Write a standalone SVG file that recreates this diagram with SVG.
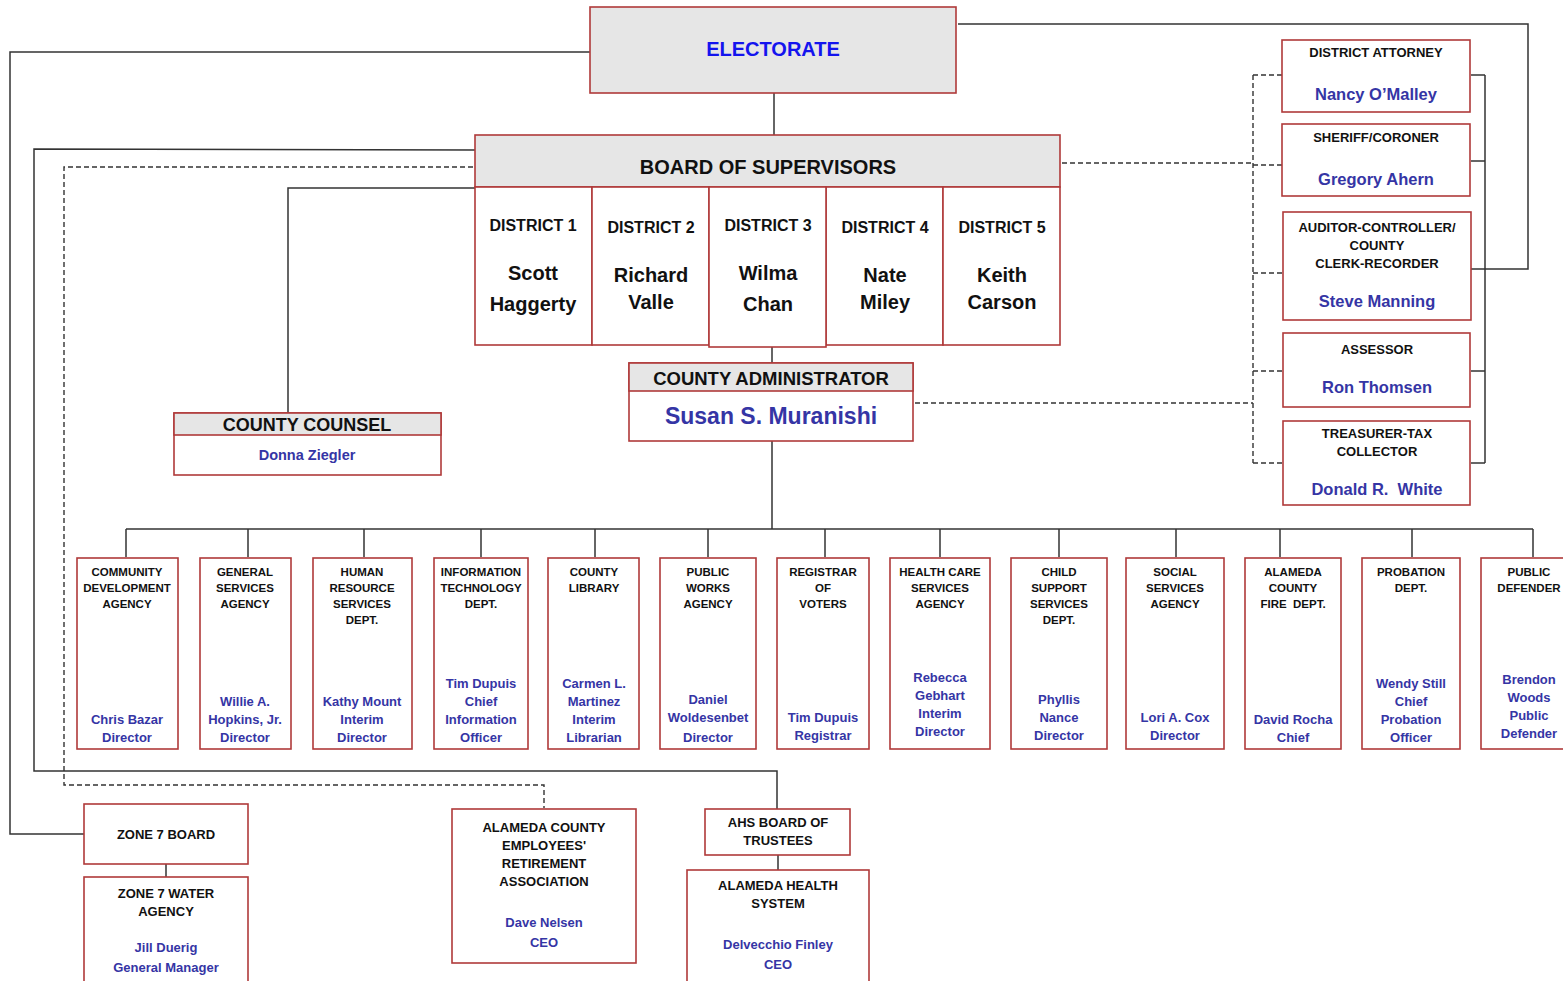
<svg xmlns="http://www.w3.org/2000/svg" width="1563" height="981" viewBox="0 0 1563 981">
<style>
text{font-family:"Liberation Sans",Arial,sans-serif;font-weight:bold;text-anchor:middle;dominant-baseline:central;fill:#111}
.box{fill:#fff;stroke:#b03a3a;stroke-width:1.6}
.hdr{fill:#e6e6e6;stroke:#b03a3a;stroke-width:1.6}
.ln{fill:none;stroke:#333;stroke-width:1.5}
.dash{fill:none;stroke:#333;stroke-width:1.4;stroke-dasharray:5,3}
.nm{fill:#3535a5}
.t11{font-size:11.5px}
.t13{font-size:13px}
.n13{font-size:13px}
.n16{font-size:16.5px}
</style>
<rect width="1563" height="981" fill="#fff"/>
<g id="connectors">
<polyline class="ln" points="590,52 10,52 10,834 84,834"/>
<polyline class="ln" points="958,24 1528,24 1528,269 1471,269"/>
<line class="ln" x1="774" y1="93" x2="774" y2="135"/>
<polyline class="ln" points="475,150 34,149 34,771 777,771 777,809"/>
<polyline class="dash" points="473,167 64,167 64,785 544,785 544,808"/>
<polyline class="ln" points="475,188 288,188 288,413"/>
<line class="ln" x1="772" y1="347" x2="772" y2="363"/>
<polyline class="dash" points="1062,163 1253,163"/>
<polyline class="dash" points="915,403 1253,403"/>
<line class="dash" x1="1253" y1="75" x2="1253" y2="463"/>
<line class="dash" x1="1253" y1="75" x2="1282" y2="75"/>
<line class="dash" x1="1253" y1="165" x2="1282" y2="165"/>
<line class="dash" x1="1253" y1="273" x2="1282" y2="273"/>
<line class="dash" x1="1253" y1="371" x2="1282" y2="371"/>
<line class="dash" x1="1253" y1="463" x2="1282" y2="463"/>
<line class="ln" x1="1485" y1="75" x2="1485" y2="463"/>
<line class="ln" x1="1471" y1="75" x2="1485" y2="75"/>
<line class="ln" x1="1471" y1="161" x2="1485" y2="161"/>
<line class="ln" x1="1471" y1="371" x2="1485" y2="371"/>
<line class="ln" x1="1471" y1="463" x2="1485" y2="463"/>
<line class="ln" x1="772" y1="441" x2="772" y2="529"/>
<line class="ln" x1="126" y1="529" x2="1533" y2="529"/>
<line class="ln" x1="126" y1="529" x2="126" y2="557"/>
<line class="ln" x1="248" y1="529" x2="248" y2="557"/>
<line class="ln" x1="364" y1="529" x2="364" y2="557"/>
<line class="ln" x1="481" y1="529" x2="481" y2="557"/>
<line class="ln" x1="595" y1="529" x2="595" y2="557"/>
<line class="ln" x1="708" y1="529" x2="708" y2="557"/>
<line class="ln" x1="825" y1="529" x2="825" y2="557"/>
<line class="ln" x1="940" y1="529" x2="940" y2="557"/>
<line class="ln" x1="1059" y1="529" x2="1059" y2="557"/>
<line class="ln" x1="1176" y1="529" x2="1176" y2="557"/>
<line class="ln" x1="1280" y1="529" x2="1280" y2="557"/>
<line class="ln" x1="1412" y1="529" x2="1412" y2="557"/>
<line class="ln" x1="1533" y1="529" x2="1533" y2="557"/>
<line class="ln" x1="166" y1="864" x2="166" y2="877"/>
<line class="ln" x1="778" y1="855" x2="778" y2="870"/>
</g>
<g id="electorate">
<rect class="hdr" x="590" y="7" width="366" height="86"/>
<text x="773" y="49" style="font-size:20px;fill:#1414ee">ELECTORATE</text>
</g>
<g id="board">
<rect class="hdr" x="475" y="135" width="585" height="52"/>
<text x="768" y="167" style="font-size:20px">BOARD OF SUPERVISORS</text>
<rect class="box" x="475" y="187" width="117" height="158"/>
<rect class="box" x="592" y="187" width="117" height="158"/>
<rect class="box" x="826" y="187" width="117" height="158"/>
<rect class="box" x="943" y="187" width="117" height="158"/>
<rect class="box" x="709" y="187" width="117" height="160"/>
<g style="font-size:16px">
<text x="533" y="225">DISTRICT 1</text>
<text x="651" y="227">DISTRICT 2</text>
<text x="768" y="225">DISTRICT 3</text>
<text x="885" y="227">DISTRICT 4</text>
<text x="1002" y="227">DISTRICT 5</text>
</g>
<g style="font-size:20px">
<text x="533" y="273">Scott</text><text x="533" y="304">Haggerty</text>
<text x="651" y="275">Richard</text><text x="651" y="302">Valle</text>
<text x="768" y="273">Wilma</text><text x="768" y="304">Chan</text>
<text x="885" y="275">Nate</text><text x="885" y="302">Miley</text>
<text x="1002" y="275">Keith</text><text x="1002" y="302">Carson</text>
</g>
</g>
<g id="county-counsel">
<rect class="box" x="174" y="413" width="267" height="62"/>
<rect class="hdr" x="174" y="413" width="267" height="22"/>
<text x="307" y="425" style="font-size:18px">COUNTY COUNSEL</text>
<text class="nm" x="307" y="455" style="font-size:14.5px">Donna Ziegler</text>
</g>
<g id="county-administrator">
<rect class="box" x="629" y="363" width="284" height="78"/>
<rect class="hdr" x="629" y="363" width="284" height="28"/>
<text x="771" y="378" style="font-size:18.5px">COUNTY ADMINISTRATOR</text>
<text class="nm" x="771" y="416" style="font-size:23px">Susan S. Muranishi</text>
</g>
<g id="district-attorney">
<rect class="box" x="1282" y="40" width="188" height="72"/>
<text class="t13" x="1376" y="52">DISTRICT ATTORNEY</text>
<text class="nm n16" x="1376" y="94">Nancy O’Malley</text>
</g>
<g id="sheriff">
<rect class="box" x="1282" y="124" width="188" height="72"/>
<text class="t13" x="1376" y="137">SHERIFF/CORONER</text>
<text class="nm n16" x="1376" y="179">Gregory Ahern</text>
</g>
<g id="auditor">
<rect class="box" x="1283" y="212" width="188" height="108"/>
<text class="t13" x="1377" y="227">AUDITOR-CONTROLLER/</text>
<text class="t13" x="1377" y="245">COUNTY</text>
<text class="t13" x="1377" y="263">CLERK-RECORDER</text>
<text class="nm n16" x="1377" y="301">Steve Manning</text>
</g>
<g id="assessor">
<rect class="box" x="1283" y="333" width="187" height="74"/>
<text class="t13" x="1377" y="349">ASSESSOR</text>
<text class="nm n16" x="1377" y="387">Ron Thomsen</text>
</g>
<g id="treasurer">
<rect class="box" x="1283" y="421" width="187" height="84"/>
<text class="t13" x="1377" y="433">TREASURER-TAX</text>
<text class="t13" x="1377" y="451">COLLECTOR</text>
<text class="nm n16" x="1377" y="489">Donald R.&#160; White</text>
</g>
<g id="dept-cda">
<rect class="box" x="77" y="558" width="101" height="191"/>
<text class="t11" x="127" y="572">COMMUNITY</text><text class="t11" x="127" y="588">DEVELOPMENT</text><text class="t11" x="127" y="604">AGENCY</text>
<text class="nm n13" x="127" y="719">Chris Bazar</text><text class="nm n13" x="127" y="737">Director</text>
</g>
<g id="dept-gsa">
<rect class="box" x="200" y="558" width="91" height="191"/>
<text class="t11" x="245" y="572">GENERAL</text><text class="t11" x="245" y="588">SERVICES</text><text class="t11" x="245" y="604">AGENCY</text>
<text class="nm n13" x="245" y="701">Willie A.</text><text class="nm n13" x="245" y="719">Hopkins, Jr.</text><text class="nm n13" x="245" y="737">Director</text>
</g>
<g id="dept-hr">
<rect class="box" x="313" y="558" width="99" height="191"/>
<text class="t11" x="362" y="572">HUMAN</text><text class="t11" x="362" y="588">RESOURCE</text><text class="t11" x="362" y="604">SERVICES</text><text class="t11" x="362" y="620">DEPT.</text>
<text class="nm n13" x="362" y="701">Kathy Mount</text><text class="nm n13" x="362" y="719">Interim</text><text class="nm n13" x="362" y="737">Director</text>
</g>
<g id="dept-it">
<rect class="box" x="434" y="558" width="94" height="191"/>
<text class="t11" x="481" y="572">INFORMATION</text><text class="t11" x="481" y="588">TECHNOLOGY</text><text class="t11" x="481" y="604">DEPT.</text>
<text class="nm n13" x="481" y="683">Tim Dupuis</text><text class="nm n13" x="481" y="701">Chief</text><text class="nm n13" x="481" y="719">Information</text><text class="nm n13" x="481" y="737">Officer</text>
</g>
<g id="dept-library">
<rect class="box" x="548" y="558" width="91" height="191"/>
<text class="t11" x="594" y="572">COUNTY</text><text class="t11" x="594" y="588">LIBRARY</text>
<text class="nm n13" x="594" y="683">Carmen L.</text><text class="nm n13" x="594" y="701">Martinez</text><text class="nm n13" x="594" y="719">Interim</text><text class="nm n13" x="594" y="737">Librarian</text>
</g>
<g id="dept-pwa">
<rect class="box" x="660" y="558" width="96" height="191"/>
<text class="t11" x="708" y="572">PUBLIC</text><text class="t11" x="708" y="588">WORKS</text><text class="t11" x="708" y="604">AGENCY</text>
<text class="nm n13" x="708" y="699">Daniel</text><text class="nm n13" x="708" y="717">Woldesenbet</text><text class="nm n13" x="708" y="737">Director</text>
</g>
<g id="dept-rov">
<rect class="box" x="777" y="558" width="92" height="191"/>
<text class="t11" x="823" y="572">REGISTRAR</text><text class="t11" x="823" y="588">OF</text><text class="t11" x="823" y="604">VOTERS</text>
<text class="nm n13" x="823" y="717">Tim Dupuis</text><text class="nm n13" x="823" y="735">Registrar</text>
</g>
<g id="dept-hcsa">
<rect class="box" x="890" y="558" width="100" height="191"/>
<text class="t11" x="940" y="572">HEALTH CARE</text><text class="t11" x="940" y="588">SERVICES</text><text class="t11" x="940" y="604">AGENCY</text>
<text class="nm n13" x="940" y="677">Rebecca</text><text class="nm n13" x="940" y="695">Gebhart</text><text class="nm n13" x="940" y="713">Interim</text><text class="nm n13" x="940" y="731">Director</text>
</g>
<g id="dept-css">
<rect class="box" x="1011" y="558" width="96" height="191"/>
<text class="t11" x="1059" y="572">CHILD</text><text class="t11" x="1059" y="588">SUPPORT</text><text class="t11" x="1059" y="604">SERVICES</text><text class="t11" x="1059" y="620">DEPT.</text>
<text class="nm n13" x="1059" y="699">Phyllis</text><text class="nm n13" x="1059" y="717">Nance</text><text class="nm n13" x="1059" y="735">Director</text>
</g>
<g id="dept-ssa">
<rect class="box" x="1126" y="558" width="98" height="191"/>
<text class="t11" x="1175" y="572">SOCIAL</text><text class="t11" x="1175" y="588">SERVICES</text><text class="t11" x="1175" y="604">AGENCY</text>
<text class="nm n13" x="1175" y="717">Lori A. Cox</text><text class="nm n13" x="1175" y="735">Director</text>
</g>
<g id="dept-fire">
<rect class="box" x="1245" y="558" width="96" height="191"/>
<text class="t11" x="1293" y="572">ALAMEDA</text><text class="t11" x="1293" y="588">COUNTY</text><text class="t11" x="1293" y="604">FIRE&#160; DEPT.</text>
<text class="nm n13" x="1293" y="719">David Rocha</text><text class="nm n13" x="1293" y="737">Chief</text>
</g>
<g id="dept-probation">
<rect class="box" x="1362" y="558" width="98" height="191"/>
<text class="t11" x="1411" y="572">PROBATION</text><text class="t11" x="1411" y="588">DEPT.</text>
<text class="nm n13" x="1411" y="683">Wendy Still</text><text class="nm n13" x="1411" y="701">Chief</text><text class="nm n13" x="1411" y="719">Probation</text><text class="nm n13" x="1411" y="737">Officer</text>
</g>
<g id="dept-pd">
<rect class="box" x="1481" y="558" width="96" height="191"/>
<text class="t11" x="1529" y="572">PUBLIC</text><text class="t11" x="1529" y="588">DEFENDER</text>
<text class="nm n13" x="1529" y="679">Brendon</text><text class="nm n13" x="1529" y="697">Woods</text><text class="nm n13" x="1529" y="715">Public</text><text class="nm n13" x="1529" y="733">Defender</text>
</g>
<g id="zone7-board">
<rect class="box" x="84" y="804" width="164" height="60"/>
<text class="t13" x="166" y="834">ZONE 7 BOARD</text>
</g>
<g id="zone7-water">
<rect class="box" x="84" y="877" width="164" height="110"/>
<text class="t13" x="166" y="893">ZONE 7 WATER</text><text class="t13" x="166" y="911">AGENCY</text>
<text class="nm n13" x="166" y="947">Jill Duerig</text><text class="nm n13" x="166" y="967">General Manager</text>
</g>
<g id="acera">
<rect class="box" x="452" y="809" width="184" height="154"/>
<text class="t13" x="544" y="827">ALAMEDA COUNTY</text><text class="t13" x="544" y="845">EMPLOYEES'</text><text class="t13" x="544" y="863">RETIREMENT</text><text class="t13" x="544" y="881">ASSOCIATION</text>
<text class="nm n13" x="544" y="922">Dave Nelsen</text><text class="nm n13" x="544" y="942">CEO</text>
</g>
<g id="ahs-board">
<rect class="box" x="705" y="809" width="145" height="46"/>
<text class="t13" x="778" y="822">AHS BOARD OF</text><text class="t13" x="778" y="840">TRUSTEES</text>
</g>
<g id="ahs">
<rect class="box" x="687" y="870" width="182" height="120"/>
<text class="t13" x="778" y="885">ALAMEDA HEALTH</text><text class="t13" x="778" y="903">SYSTEM</text>
<text class="nm n13" x="778" y="944">Delvecchio Finley</text><text class="nm n13" x="778" y="964">CEO</text>
</g>
</svg>
